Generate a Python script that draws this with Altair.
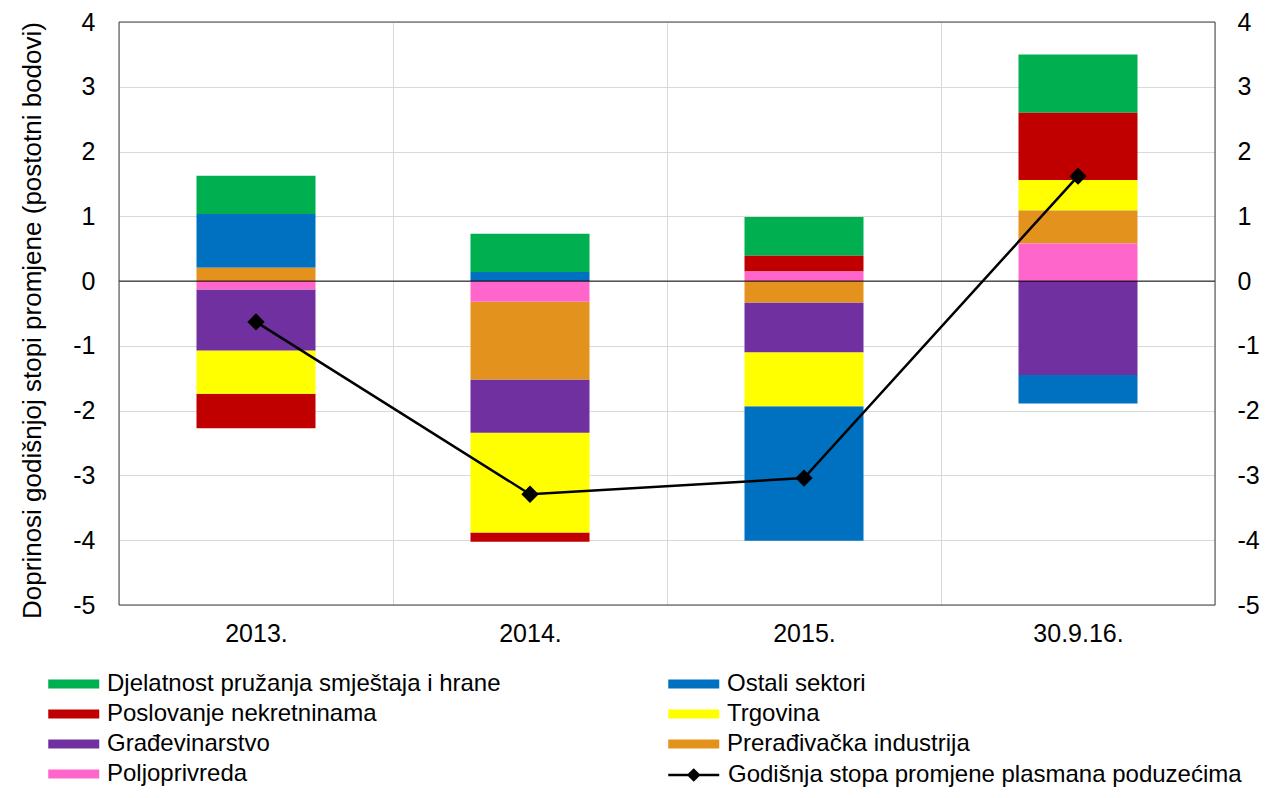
import altair as alt
import pandas as pd

years = ["2013.", "2014.", "2015.", "30.9.16."]

sectors = [
    "Djelatnost pružanja smještaja i hrane",
    "Ostali sektori",
    "Poslovanje nekretninama",
    "Trgovina",
    "Građevinarstvo",
    "Prerađivačka industrija",
    "Poljoprivreda",
]
colors = ["#00B050", "#0070C0", "#C00000", "#FFFF00", "#7030A0", "#E3921E", "#FF66CC"]
# stacking order from zero outward
stack_order = [6, 5, 4, 3, 2, 1, 0]

djelatnost = [0.59, 0.59, 0.60, 0.90]
ostali = [0.83, 0.14, -2.08, -0.44]
poslovanje = [-0.53, -0.145, 0.24, 1.04]
trgovina = [-0.67, -1.54, -0.83, 0.47]
gradjevinarstvo = [-0.94, -0.82, -0.77, -1.45]
preradjivacka = [0.205, -1.20, -0.33, 0.51]
poljoprivreda = [-0.13, -0.32, 0.15, 0.58]

line_name = "Godišnja stopa promjene plasmana poduzećima"
stopa = [-0.63, -3.29, -3.04, 1.62]

series = [djelatnost, ostali, poslovanje, trgovina, gradjevinarstvo, preradjivacka, poljoprivreda]
rows = []
for s, vals, o in zip(sectors, series, stack_order):
    for y, v in zip(years, vals):
        rows.append({"year": y, "sektor": s, "value": v, "ord": o})
bars_df = pd.DataFrame(rows)
line_df = pd.DataFrame({"year": years, "stopa": stopa, "serija": [line_name] * len(years)})

FONT = "Liberation Sans"
W, H = 1096, 583
GRID = "#D9D9D9"
TICKFS = 25
LEGFS = 24
HYPHEN = "replace(datum.label, '\u2212', '-')"
LEG_Y0 = 649
ROW = 30

x_axis = alt.Axis(
    title=None, grid=True, gridColor=GRID, tickBand="extent", ticks=False,
    domain=False, labelPadding=16, labelFontSize=TICKFS, labelFont=FONT,
    labelColor="black", labelAngle=0,
)
yscale = alt.Scale(domain=[-5, 4], nice=False, zero=False)

bars = alt.Chart(bars_df).mark_bar(width=119).encode(
    x=alt.X("year:N", sort=years, axis=x_axis, scale=alt.Scale(paddingInner=0, paddingOuter=0)),
    y=alt.Y(
        "sum(value):Q", scale=yscale, stack="zero",
        axis=alt.Axis(
            title="Doprinosi godišnjoj  stopi promjene (postotni bodovi)",
            titleFont=FONT, titleFontSize=26, titleFontWeight="normal", titleColor="black",
            titleX=-87, titleY=298, titleAngle=270, titleAlign="center", titleBaseline="middle",
            values=list(range(-5, 5)), grid=True, gridColor=GRID, ticks=False, domain=False,
            labelPadding=24, labelFontSize=TICKFS, labelFont=FONT, labelColor="black",
            labelExpr=HYPHEN,
        ),
    ),
    color=alt.Color(
        "sektor:N",
        scale=alt.Scale(domain=sectors, range=colors),
        legend=alt.Legend(
            orient="none", legendX=-71, legendY=LEG_Y0, columns=2, direction="horizontal",
            title=None,
            symbolType="M-1,-0.36H3V0.36H-1Z", symbolSize=650, symbolStrokeWidth=0,
            labelFont=FONT, labelFontSize=LEGFS, labelColor="black", labelOffset=33,
            labelLimit=800, rowPadding=5, columnPadding=167, padding=0,
        ),
    ),
    order=alt.Order("ord:Q", sort="ascending"),
)

line = alt.Chart(line_df).mark_line(strokeWidth=2.5).encode(
    x=alt.X("year:N", sort=years, axis=x_axis),
    y=alt.Y(
        "stopa:Q", scale=yscale,
        axis=alt.Axis(
            title=None, orient="right", values=list(range(-5, 5)), grid=False, ticks=False,
            domain=False, labelPadding=22, labelFontSize=TICKFS, labelFont=FONT,
            labelColor="black", labelExpr=HYPHEN,
        ),
    ),
    color=alt.Color(
        "serija:N",
        scale=alt.Scale(domain=[line_name], range=["black"]),
        legend=alt.Legend(
            orient="none", legendX=548, legendY=LEG_Y0 + 3 * ROW, title=None,
            symbolType="M-1,0H3M0.6,0L1,-0.4L1.4,0L1,0.4Z", symbolSize=650,
            symbolStrokeWidth=2.5, symbolFillColor="black", symbolStrokeColor="black",
            labelFont=FONT, labelFontSize=LEGFS, labelColor="black", labelOffset=33,
            labelLimit=800, padding=0,
        ),
    ),
)

points = alt.Chart(line_df).mark_point(shape="diamond", filled=True, size=300, color="black", opacity=1).encode(
    x=alt.X("year:N", sort=years, axis=x_axis),
    y=alt.Y("stopa:Q", scale=yscale, axis=None),
)

zero = alt.Chart(pd.DataFrame({"z": [0]})).mark_rule(color="black", strokeWidth=1).encode(
    y=alt.Y("z:Q", scale=yscale, axis=None),
)

frame = alt.Chart(pd.DataFrame({"f": [0]})).mark_rect(filled=False, stroke="#404040", strokeWidth=1).encode(
    x=alt.value(0), x2=alt.value(W), y=alt.value(0), y2=alt.value(H),
)

chart = alt.layer(bars, line, points, zero, frame).resolve_scale(
    color="independent"
).resolve_axis(y="independent").properties(
    width=W, height=H,
    padding={"left": 111, "top": 14, "right": 45, "bottom": 185},
    autosize=alt.AutoSizeParams(type="none"),
).configure_view(stroke=None)

chart.save("out.html", embed_options={"renderer": "svg", "actions": False})
